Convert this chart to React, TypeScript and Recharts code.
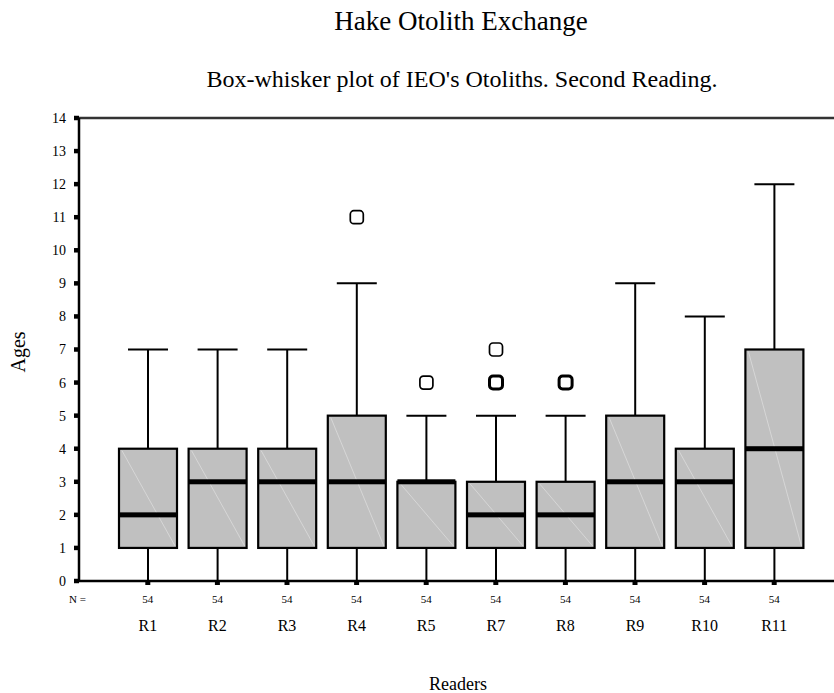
import React from 'react';
import { ComposedChart, Bar, XAxis, YAxis, ReferenceLine } from 'recharts';

const readers = ['R1', 'R2', 'R3', 'R4', 'R5', 'R7', 'R8', 'R9', 'R10', 'R11'];
const nCounts = [54, 54, 54, 54, 54, 54, 54, 54, 54, 54];
const minAges = [0, 0, 0, 0, 0, 0, 0, 0, 0, 0];
const q1Ages = [1, 1, 1, 1, 1, 1, 1, 1, 1, 1];
const medianAges = [2, 3, 3, 3, 3, 2, 2, 3, 3, 4];
const q3Ages = [4, 4, 4, 5, 3, 3, 3, 5, 4, 7];
const maxAges = [7, 7, 7, 9, 5, 5, 5, 9, 8, 12];
// repeated values = several otoliths on the same age (drawn bolder)
const outlierAges = [[], [], [], [11], [6], [6, 6, 7], [6, 6], [], [], []];
const ageTicks = [0, 1, 2, 3, 4, 5, 6, 7, 8, 9, 10, 11, 12, 13, 14];

const data = readers.map((reader, i) => ({
  reader,
  n: nCounts[i],
  min: minAges[i],
  q1: q1Ages[i],
  median: medianAges[i],
  q3: q3Ages[i],
  max: maxAges[i],
  outliers: outlierAges[i],
}));

const FONT = '"Liberation Serif", "Times New Roman", serif';

const BoxShape = (props: any) => {
  const { x, y, width, height, payload } = props;
  if (payload == null || height == null) return null;
  const top = Math.min(y, y + height);
  const bottom = Math.max(y, y + height);
  const unit = (bottom - top) / (payload.max - payload.min);
  const py = (v: number) => bottom - (v - payload.min) * unit;
  const cx = x + width / 2;
  const capHalf = 20;
  const yMax = py(payload.max);
  const yMin = py(payload.min);
  const yQ3 = py(payload.q3);
  const yQ1 = py(payload.q1);
  const yMed = py(payload.median);

  const counts: Record<number, number> = {};
  payload.outliers.forEach((v: number) => {
    counts[v] = (counts[v] || 0) + 1;
  });

  return (
    <g>
      <line x1={cx} y1={yMax} x2={cx} y2={yQ3} stroke="#000" strokeWidth={2} />
      <line x1={cx} y1={yQ1} x2={cx} y2={yMin} stroke="#000" strokeWidth={2} />
      <line x1={cx - capHalf} y1={yMax} x2={cx + capHalf} y2={yMax} stroke="#000" strokeWidth={2} />
      <line x1={cx - capHalf} y1={yMin} x2={cx + capHalf} y2={yMin} stroke="#000" strokeWidth={2} />
      <rect x={x} y={yQ3} width={width} height={yQ1 - yQ3} fill="#c0c0c0" stroke="#000" strokeWidth={2.2} />
      <line x1={x + 3} y1={yQ3 + 2} x2={x + width - 2} y2={yQ1 - 2} stroke="#dcdcdc" strokeWidth={0.8} />
      <rect x={x} y={yMed - 2.5} width={width} height={5} fill="#000" />
      {Object.keys(counts).map((k) => {
        const v = Number(k);
        return (
          <rect
            key={k}
            x={cx - 6.5}
            y={py(v) - 6.5}
            width={13}
            height={13}
            rx={3.5}
            fill="#fff"
            stroke="#000"
            strokeWidth={counts[v] > 1 ? 3 : 1.7}
          />
        );
      })}
    </g>
  );
};

const ReaderTick = (props: any) => {
  const { x, y, payload } = props;
  const n = nCounts[payload.index];
  return (
    <g>
      <text x={x} y={y + 18} textAnchor="middle" fontSize={11} fontFamily={FONT} fill="#000">
        {n}
      </text>
      <text x={x} y={y + 46} textAnchor="middle" fontSize={16} fontFamily={FONT} fill="#000">
        {payload.value}
      </text>
    </g>
  );
};

export default function App() {
  return (
    <div style={{ position: 'absolute', left: 0, top: 0, width: 834, height: 693, background: '#fff' }}>
      <ComposedChart
        width={834}
        height={693}
        data={data}
        margin={{ top: 118, right: 0, bottom: 0, left: 0 }}
      >
        <XAxis
          dataKey="reader"
          height={112}
          padding={{ left: 34, right: 25 }}
          axisLine={{ stroke: '#000', strokeWidth: 2.5 }}
          tickLine={{ stroke: '#000', strokeWidth: 5 }}
          tickSize={4}
          tickMargin={0}
          interval={0}
          tick={<ReaderTick />}
        />
        <YAxis
          type="number"
          domain={[0, 14]}
          ticks={ageTicks}
          interval={0}
          width={79}
          axisLine={{ stroke: '#000', strokeWidth: 2.5 }}
          tickLine={{ stroke: '#000', strokeWidth: 4.5 }}
          tickSize={5}
          tickMargin={8}
          tick={{ fill: '#000', fontSize: 14, fontFamily: FONT }}
        />
        <ReferenceLine y={14} stroke="#333" strokeWidth={2.5} />
        <Bar
          dataKey={(d: any) => [d.min, d.max]}
          barSize={58}
          shape={<BoxShape />}
          isAnimationActive={false}
        />
      </ComposedChart>
      <svg
        width={834}
        height={693}
        style={{ position: 'absolute', left: 0, top: 0, pointerEvents: 'none' }}
        fontFamily={FONT}
      >
        <text x={461} y={30} textAnchor="middle" fontSize={27} fill="#000">
          Hake Otolith Exchange
        </text>
        <text x={462} y={87} textAnchor="middle" fontSize={24} fill="#000">
          Box-whisker plot of IEO's Otoliths. Second Reading.
        </text>
        <text x={69} y={603} fontSize={11} fill="#000">
          N =
        </text>
        <text x={25} y={352} textAnchor="middle" fontSize={20} fill="#000" transform="rotate(-90 25 352)">
          Ages
        </text>
        <text x={458} y={690} textAnchor="middle" fontSize={18} fill="#000">
          Readers
        </text>
      </svg>
    </div>
  );
}
